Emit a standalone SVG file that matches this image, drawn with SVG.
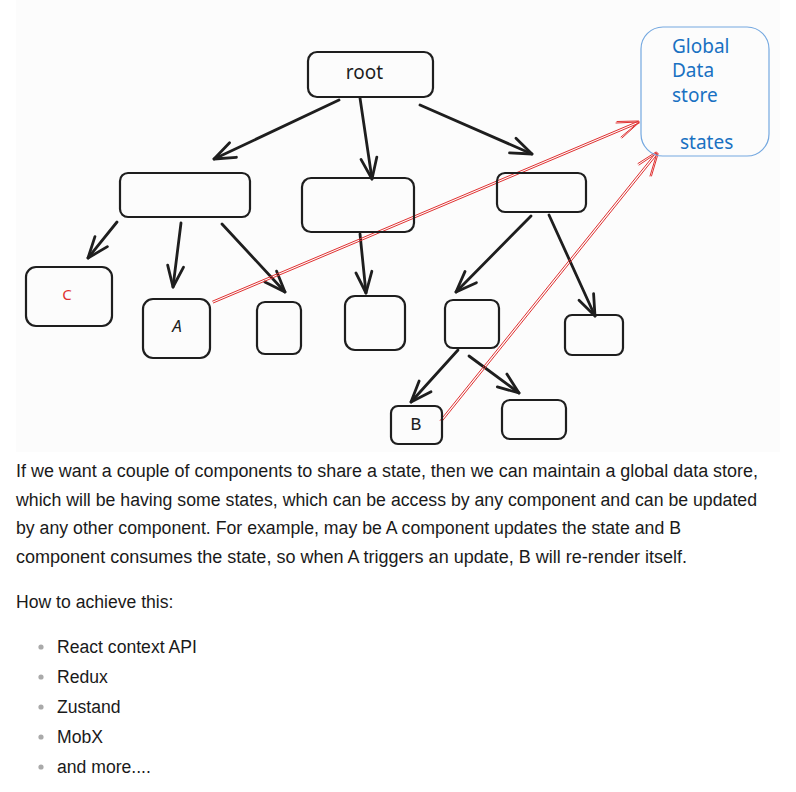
<svg xmlns="http://www.w3.org/2000/svg" width="796" height="792" viewBox="0 0 796 792">
<style>
.box{fill:none;stroke:#1e1e1e;stroke-width:2.2;stroke-linejoin:round}
.arr{fill:none;stroke:#1e1e1e;stroke-width:2.8;stroke-linecap:round}
.red{fill:none;stroke:#e03131;stroke-width:1;stroke-linecap:round}
.hand{font-family:"Noto Sans","DejaVu Sans",sans-serif;fill:#1e1e1e}
.blue{font-family:"Noto Sans","DejaVu Sans",sans-serif;fill:#1971c2;font-size:19px}
.para{font-family:"Liberation Sans",Arial,sans-serif;font-size:17.6px;fill:#1a1a1a}
.bullet{fill:#aaaaaa}
</style>
<defs>
<marker id="ah" markerUnits="userSpaceOnUse" markerWidth="30" markerHeight="30" refX="0" refY="0" orient="auto" overflow="visible">
<path d="M-21,-8 L0,0 L-21,8" fill="none" stroke="#1e1e1e" stroke-width="2.8" stroke-linecap="round" stroke-linejoin="round"/>
</marker>
</defs>
<rect x="16" y="0" width="764" height="452" fill="#fcfcfc"/>

<g id="connectors">
<line class="arr" x1="339" y1="100" x2="214" y2="159" marker-end="url(#ah)"/>
<line class="arr" x1="360" y1="98" x2="372" y2="179" marker-end="url(#ah)"/>
<line class="arr" x1="420" y1="105" x2="532" y2="154" marker-end="url(#ah)"/>
<line class="arr" x1="117" y1="222" x2="88" y2="258" marker-end="url(#ah)"/>
<line class="arr" x1="181" y1="223" x2="173" y2="287" marker-end="url(#ah)"/>
<line class="arr" x1="222" y1="224" x2="285" y2="292" marker-end="url(#ah)"/>
<line class="arr" x1="360" y1="234" x2="366" y2="293" marker-end="url(#ah)"/>
<line class="arr" x1="531" y1="216" x2="456" y2="292" marker-end="url(#ah)"/>
<line class="arr" x1="549" y1="215" x2="595" y2="316" marker-end="url(#ah)"/>
<line class="arr" x1="458" y1="350" x2="411" y2="402" marker-end="url(#ah)"/>
<line class="arr" x1="469" y1="356" x2="519" y2="393" marker-end="url(#ah)"/>
<line class="red" x1="213.4" y1="302.9" x2="639.4" y2="122.9"/>
<line class="red" x1="212.6" y1="301.1" x2="638.6" y2="121.1"/>
<path class="red" d="M639,122 L616,123 M639,122 L621,137 M638,121 L617,121.5 M638.5,123 L622,138"/>
<line class="red" x1="441.8" y1="421.6" x2="657.8" y2="153.6"/>
<line class="red" x1="440.2" y1="420.4" x2="656.2" y2="152.4"/>
<path class="red" d="M657,153 L639,165 M657,153 L650,176 M656,152 L638,163.5 M658,154 L651.5,176"/>
</g>

<g id="root"><rect class="box" x="308" y="52" width="125" height="45" rx="9"/><text class="hand" x="364.5" y="79" font-size="19" text-anchor="middle">root</text></g>
<g id="store"><rect x="641" y="27" width="128" height="129" rx="22" fill="none" stroke="#74a8e0" stroke-width="1.2"/>
<text class="blue" x="672" y="53">Global</text>
<text class="blue" x="672" y="77">Data</text>
<text class="blue" x="672" y="101.5">store</text>
<text class="blue" x="680" y="149">states</text></g>
<g id="n-left"><rect class="box" x="120" y="173" width="130" height="44" rx="8"/></g>
<g id="n-mid"><rect class="box" x="302" y="178" width="112" height="54" rx="9"/></g>
<g id="n-right"><rect class="box" x="497" y="173" width="89" height="39" rx="8"/></g>
<g id="n-c"><rect class="box" x="26" y="267" width="86" height="59" rx="10"/><text x="67" y="300" font-family="Noto Sans,sans-serif" font-size="15" fill="#e03131" text-anchor="middle">C</text></g>
<g id="n-a"><rect class="box" x="143" y="299" width="67" height="59" rx="10"/><text class="hand" x="177" y="332" font-size="17" font-style="italic" text-anchor="middle">A</text></g>
<g id="n-s1"><rect class="box" x="257" y="302" width="44" height="52" rx="8"/></g>
<g id="n-s2"><rect class="box" x="345" y="296" width="60" height="54" rx="10"/></g>
<g id="n-s3"><rect class="box" x="445" y="300" width="54" height="48" rx="8"/></g>
<g id="n-s4"><rect class="box" x="565" y="315" width="58" height="40" rx="7"/></g>
<g id="n-b"><rect class="box" x="391" y="406" width="51" height="38" rx="7"/><text x="416" y="430" font-family="Liberation Mono,monospace" font-size="18" fill="#1e1e1e" text-anchor="middle">B</text></g>
<g id="n-s5"><rect class="box" x="502" y="400" width="64" height="39" rx="8"/></g>

<g id="text">
<text class="para" x="16" y="477" textLength="742" lengthAdjust="spacingAndGlyphs">If we want a couple of components to share a state, then we can maintain a global data store,</text>
<text class="para" x="16" y="505.5" textLength="741" lengthAdjust="spacingAndGlyphs">which will be having some states, which can be access by any component and can be updated</text>
<text class="para" x="16" y="534" textLength="665" lengthAdjust="spacingAndGlyphs">by any other component. For example, may be A component updates the state and B</text>
<text class="para" x="16" y="562.5" textLength="671" lengthAdjust="spacingAndGlyphs">component consumes the state, so when A triggers an update, B will re-render itself.</text>
<text class="para" x="16" y="607.5">How to achieve this:</text>
<circle class="bullet" cx="41" cy="647" r="2.6"/><text class="para" x="57" y="652.5">React context API</text>
<circle class="bullet" cx="41" cy="677" r="2.6"/><text class="para" x="57" y="682.5">Redux</text>
<circle class="bullet" cx="41" cy="707" r="2.6"/><text class="para" x="57" y="712.5">Zustand</text>
<circle class="bullet" cx="41" cy="737" r="2.6"/><text class="para" x="57" y="742.5">MobX</text>
<circle class="bullet" cx="41" cy="767" r="2.6"/><text class="para" x="57" y="772.5">and more....</text>
</g>
</svg>
